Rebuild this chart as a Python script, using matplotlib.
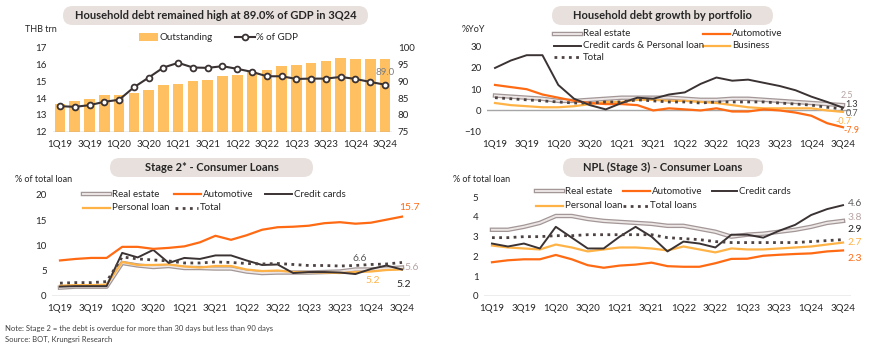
import numpy as np
import matplotlib
matplotlib.use("Agg")
import matplotlib.pyplot as plt
from matplotlib.patches import FancyBboxPatch, Rectangle
from matplotlib.lines import Line2D
import matplotlib.patheffects as pe

plt.rcParams['font.family'] = ['Lato', 'DejaVu Sans']
plt.rcParams['font.size'] = 7

quarters = ["1Q19", "2Q19", "3Q19", "4Q19", "1Q20", "2Q20", "3Q20", "4Q20",
            "1Q21", "2Q21", "3Q21", "4Q21", "1Q22", "2Q22", "3Q22", "4Q22",
            "1Q23", "2Q23", "3Q23", "4Q23", "1Q24", "2Q24", "3Q24"]

# Panel 1: household debt
outstanding = [13.65, 13.8, 13.95, 14.2, 14.2, 14.3, 14.5, 14.75, 14.85, 15.0, 15.05, 15.3,
               15.4, 15.55, 15.7, 15.9, 15.95, 16.1, 16.2, 16.4, 16.35, 16.3, 16.3]
pct_gdp = [82.6, 82.4, 82.9, 83.9, 84.5, 88.2, 91.1, 94.1, 95.5, 94.1, 94.0, 94.5,
           93.7, 92.8, 91.5, 91.5, 90.7, 90.8, 90.8, 91.3, 90.7, 89.8, 89.0]

# Panel 2: growth by portfolio (%YoY)
g_real_estate = [7, 6.5, 6, 5.5, 4.5, 4.5, 5, 5.5, 6, 6, 6, 6, 5.5, 5, 5, 5.5, 5.5, 5,
                 4.5, 4, 3.5, 3, 2.5]
g_auto = [12, 11, 10, 7.5, 6, 4.5, 3.5, 3, 3, 2.5, 0, 1, 0.5, 0, 1, -0.5, -0.5, 0.5, 0,
          -1, -2.5, -6, -7.9]
g_cc_pl = [20, 23.5, 26, 26, 12, 5.5, 2.5, 0.5, 3.5, 6, 5.5, 7.5, 8.5, 12.5, 15.5, 14,
           14.5, 13, 11.5, 9.5, 6.5, 4, 1.3]
g_business = [3.5, 2.5, 2, 1.5, 1.5, 2, 3, 4, 4, 5, 5, 4.5, 4.5, 4, 3.5, 2.5, 1.5, 1, 1,
              1, 1, 0, -0.7]
g_total = [6, 5.5, 5, 4.5, 4, 3.5, 3.5, 4, 4, 5, 4.5, 4, 4, 3.5, 4, 4, 4, 4, 3.5, 3, 2.5,
           1.5, 0.7]

# Panel 3: Stage 2
s2_auto = [7.0, 7.3, 7.5, 7.5, 9.7, 9.7, 9.3, 9.5, 9.8, 10.6, 11.9, 11.1, 12.0, 13.1, 13.6,
           13.7, 13.9, 14.4, 14.6, 14.3, 14.5, 15.1, 15.7]
s2_cc = [1.8, 1.9, 1.9, 1.9, 8.5, 7.6, 9.1, 6.5, 7.5, 7.3, 8.0, 8.0, 7.0, 6.1, 6.2, 4.5,
         4.7, 4.7, 4.6, 4.3, 5.3, 6.0, 5.2]
s2_real_estate = [1.6, 1.8, 1.8, 1.8, 6.5, 6.0, 5.7, 5.9, 5.5, 5.5, 5.4, 5.4, 4.8, 4.5, 4.6,
                  4.6, 4.6, 4.7, 4.8, 5.2, 5.2, 5.4, 5.6]
s2_personal = [2.0, 2.1, 2.1, 2.2, 6.7, 6.1, 6.1, 6.2, 5.8, 5.6, 5.9, 5.9, 5.2, 4.9, 5.0,
               4.7, 4.7, 4.6, 4.5, 4.7, 4.8, 5.1, 5.2]
s2_total = [2.5, 2.6, 2.6, 2.8, 7.7, 7.3, 7.1, 6.9, 6.5, 6.5, 6.7, 6.6, 6.4, 6.3, 6.4, 6.2,
            6.0, 6.0, 5.9, 6.0, 6.2, 6.3, 6.6]

# Panel 4: NPL
npl_real_estate = [3.35, 3.35, 3.5, 3.7, 4.05, 4.05, 3.9, 3.8, 3.75, 3.7, 3.65, 3.55, 3.55,
                   3.4, 3.25, 3.0, 3.1, 3.15, 3.25, 3.35, 3.5, 3.7, 3.8]
npl_auto = [1.7, 1.8, 1.85, 1.85, 2.07, 1.85, 1.55, 1.42, 1.53, 1.58, 1.68, 1.5, 1.47, 1.47,
            1.65, 1.87, 1.88, 2.03, 2.08, 2.12, 2.15, 2.25, 2.3]
npl_cc = [2.65, 2.5, 2.65, 2.4, 3.5, 2.95, 2.4, 2.4, 3.0, 3.5, 3.0, 2.25, 2.75, 2.65, 2.45,
          3.1, 3.1, 2.95, 3.3, 3.6, 4.1, 4.4, 4.6]
npl_personal = [2.55, 2.45, 2.4, 2.35, 2.6, 2.45, 2.25, 2.35, 2.45, 2.45, 2.4, 2.3, 2.5,
                2.35, 2.2, 2.4, 2.35, 2.35, 2.4, 2.45, 2.5, 2.6, 2.7]
npl_total = [2.95, 2.95, 3.0, 3.0, 3.05, 3.05, 3.1, 3.1, 3.1, 3.1, 3.1, 2.95, 2.9, 2.85,
             2.75, 2.7, 2.7, 2.7, 2.7, 2.7, 2.75, 2.8, 2.85]

C_BAR = '#FFC061'
C_DARK = '#3B3333'
C_AUTO = '#FF6A13'
C_LIGHT = '#FFB347'
C_RE_FILL = '#EDE6E6'
C_RE_EDGE = '#A39797'
C_RE_TXT = '#B8A3A3'
C_TOT = '#4D4242'
C_TXT = '#262626'
C_AXIS = '#A6A6A6'
C_BOX = '#E8E0DD'

W, H = 870, 353
fig = plt.figure(figsize=(W / 100, H / 100), dpi=100)


def axes_px(x0, x1, ytop, ybot):
    return fig.add_axes([x0 / W, (H - ybot) / H, (x1 - x0) / W, (ybot - ytop) / H])


def title_box(x0, x1, ytop, ybot, text):
    box = FancyBboxPatch((x0 / 100, (H - ybot) / 100), (x1 - x0) / 100, (ybot - ytop) / 100,
                         boxstyle="round,pad=0,rounding_size=0.095",
                         transform=fig.dpi_scale_trans, facecolor=C_BOX, edgecolor='none')
    fig.patches.append(box)
    fig.text((x0 + x1) / 2 / W, 1 - (ytop + ybot) / 2 / H, text, ha='center', va='center',
             fontsize=8, fontweight='bold', color=C_TXT)


def style(ax, ylim, yticks):
    ax.set_xlim(-0.5, 22.5)
    ax.set_ylim(*ylim)
    ax.set_yticks(yticks)
    ax.set_xticks(range(0, 23, 2))
    ax.set_xticklabels(quarters[::2])
    for s in ['top', 'right', 'left', 'bottom']:
        ax.spines[s].set_visible(False)
    ax.tick_params(length=0, labelsize=7, colors=C_TXT, pad=4)
    ax.tick_params(axis='x', pad=6)
    ax.patch.set_alpha(0)


def legend_item(line, label, x0, y, length=27):
    # legend key drawn in figure pixels, copying the style of the plotted line
    h = Line2D([x0 / W, (x0 + length) / W], [1 - y / H, 1 - y / H])
    h.update_from(line)
    h.set_transform(fig.transFigure)
    h.set_clip_on(False)
    h.set_marker('None')
    fig.add_artist(h)
    fig.text((x0 + length + 2) / W, 1 - y / H, label, va='center', fontsize=7, color=C_TXT)


x = np.arange(len(quarters))
re_fx = [pe.Stroke(linewidth=3.2, foreground=C_RE_EDGE), pe.Normal()]
dot = (0, (1, 1.6))

# ---------- Panel 1 ----------
ax1 = axes_px(52.6, 392.4, 47.7, 131.7)
style(ax1, (12, 17), range(12, 18))
ax1.bar(x, [v - 12 for v in outstanding], bottom=12, width=0.72, color=C_BAR, zorder=1)
ax1.axhline(12, color=C_AXIS, lw=1)
ax1b = ax1.twinx()
ax1b.set_ylim(75, 100)
ax1b.set_yticks(range(75, 101, 5))
for s in ['top', 'right', 'left', 'bottom']:
    ax1b.spines[s].set_visible(False)
ax1b.tick_params(length=0, labelsize=7, colors=C_TXT, pad=4)
gdp_line, = ax1b.plot(x, pct_gdp, color=C_DARK, lw=1.5, marker='o', ms=4.2, mfc='white',
                      mec=C_DARK, mew=1.3)
ax1b.text(22, 92.5, f"{pct_gdp[-1]:.1f}", ha='center', va='center',
          fontsize=7, color='#7F7F7F')
title_box(63, 368, 6, 25, "Household debt remained high at 89.0% of GDP in 3Q24")
fig.text(25 / W, 1 - 29 / H, "THB trn", fontsize=6.5, va='center', color=C_TXT)
fig.add_artist(Rectangle((139 / W, 1 - 40.5 / H), 19 / W, 7 / H, transform=fig.transFigure,
                         facecolor=C_BAR, edgecolor='none'))
fig.text(160 / W, 1 - 37 / H, "Outstanding", va='center', fontsize=7, color=C_TXT)
fig.add_artist(Line2D([235 / W, 245 / W, 255 / W], [1 - 37 / H] * 3, transform=fig.transFigure,
                      color=C_DARK, lw=1.5, marker='o', markevery=[1], ms=4.2,
                      mfc='white', mec=C_DARK, mew=1.3))
fig.text(256 / W, 1 - 37 / H, "% of GDP", va='center', fontsize=7, color=C_TXT)

# ---------- Panel 2 ----------
ax2 = axes_px(487.1, 850.9, 46.7, 131.7)
style(ax2, (-10, 30), range(-10, 31, 10))
ax2.axhline(0, color=C_AXIS, lw=1, zorder=0)
l_re, = ax2.plot(x, g_real_estate, color=C_RE_FILL, lw=1.4, path_effects=re_fx)
l_bu, = ax2.plot(x, g_business, color=C_LIGHT, lw=1.6)
l_au, = ax2.plot(x, g_auto, color=C_AUTO, lw=1.6)
l_cc, = ax2.plot(x, g_cc_pl, color=C_DARK, lw=1.4)
l_to, = ax2.plot(x, g_total, color=C_TOT, lw=2, ls=dot)
ax2.text(22.25, 7.2, "2.5", ha='center', va='center', fontsize=6.5, color=C_RE_TXT)
ax2.text(22.55, 2.8, "1.3", ha='center', va='center', fontsize=6.5, color=C_DARK)
ax2.text(22.55, -1.6, "0.7", ha='center', va='center', fontsize=6.5, color='#595959')
ax2.text(22.0, -5.0, "-0.7", ha='center', va='center', fontsize=6.5, color=C_LIGHT)
ax2.text(22.55, -9.4, "-7.9", ha='center', va='center', fontsize=6.5, color=C_AUTO)
title_box(552, 773, 6, 25, "Household debt growth by portfolio")
fig.text(462 / W, 1 - 29 / H, "%YoY", fontsize=6.5, va='center', color=C_TXT)
legend_item(l_re, "Real estate", 554, 34)
legend_item(l_cc, "Credit cards & Personal loan", 554, 46)
legend_item(l_to, "Total", 554, 57)
legend_item(l_au, "Automotive", 703, 34)
legend_item(l_bu, "Business", 703, 46)

# ---------- Panel 3 ----------
ax3 = axes_px(52.2, 409.8, 195, 295.7)
style(ax3, (0, 20), range(0, 21, 5))
ax3.axhline(0, color=C_AXIS, lw=1, zorder=0)
m_re, = ax3.plot(x, s2_real_estate, color=C_RE_FILL, lw=1.4, path_effects=re_fx)
m_pl, = ax3.plot(x, s2_personal, color=C_LIGHT, lw=1.6)
m_cc, = ax3.plot(x, s2_cc, color=C_DARK, lw=1.4)
m_au, = ax3.plot(x, s2_auto, color=C_AUTO, lw=1.6)
m_to, = ax3.plot(x, s2_total, color=C_TOT, lw=2, ls=dot)
ax3.text(22.5, 17.6, "15.7", ha='center', va='center', fontsize=7.5, color=C_AUTO)
ax3.text(19.3, 7.3, "6.6", ha='center', va='center', fontsize=7.5, color='#595959')
ax3.text(22.6, 5.7, "5.6", ha='center', va='center', fontsize=7.5, color=C_RE_TXT)
ax3.text(20.1, 3.1, "5.2", ha='center', va='center', fontsize=7.5, color=C_LIGHT)
ax3.text(22.1, 2.3, "5.2", ha='center', va='center', fontsize=7.5, color=C_TXT)
title_box(110, 313, 158, 177, "Stage 2* - Consumer Loans")
fig.text(15 / W, 1 - 180 / H, "% of total loan", fontsize=6.5, va='center', color=C_TXT)
legend_item(m_re, "Real estate", 83, 194)
legend_item(m_au, "Automotive", 174, 194)
legend_item(m_cc, "Credit cards", 265, 194)
legend_item(m_pl, "Personal loan", 83, 208)
legend_item(m_to, "Total", 175, 208, length=23)
fig.text(5 / W, 1 - 328 / H, "Note: Stage 2 = the debt is overdue for more than 30 days "
         "but less than 90 days", fontsize=5.5, va='center', color='#404040')
fig.text(5 / W, 1 - 339 / H, "Source: BOT, Krungsri Research", fontsize=5.5, va='center',
         color='#404040')

# ---------- Panel 4 ----------
ax4 = axes_px(484, 851, 197.3, 295.7)
style(ax4, (0, 5), range(0, 6))
ax4.axhline(0, color=C_AXIS, lw=1, zorder=0)
n_re, = ax4.plot(x, npl_real_estate, color=C_RE_FILL, lw=1.4, path_effects=re_fx)
n_pl, = ax4.plot(x, npl_personal, color=C_LIGHT, lw=1.6)
n_au, = ax4.plot(x, npl_auto, color=C_AUTO, lw=1.6)
n_cc, = ax4.plot(x, npl_cc, color=C_DARK, lw=1.4)
n_to, = ax4.plot(x, npl_total, color=C_TOT, lw=2, ls=dot)
ax4.text(22.76, 4.7, "4.6", ha='center', va='center', fontsize=7.5, color='#595959')
ax4.text(22.76, 3.95, "3.8", ha='center', va='center', fontsize=7.5, color=C_RE_TXT)
ax4.text(22.76, 3.35, "2.9", ha='center', va='center', fontsize=7.5, color=C_TXT)
ax4.text(22.76, 2.7, "2.7", ha='center', va='center', fontsize=7.5, color=C_LIGHT)
ax4.text(22.76, 1.9, "2.3", ha='center', va='center', fontsize=7.5, color=C_AUTO)
title_box(563, 763, 158, 177, "NPL (Stage 3) - Consumer Loans")
fig.text(453 / W, 1 - 180 / H, "% of total loan", fontsize=6.5, va='center', color=C_TXT)
legend_item(n_re, "Real estate", 536, 191)
legend_item(n_au, "Automotive", 623, 191)
legend_item(n_cc, "Credit cards", 712, 191, length=25)
legend_item(n_pl, "Personal loan", 536, 206)
legend_item(n_to, "Total loans", 623, 206, length=25)

fig.savefig("out.png", dpi=100)
